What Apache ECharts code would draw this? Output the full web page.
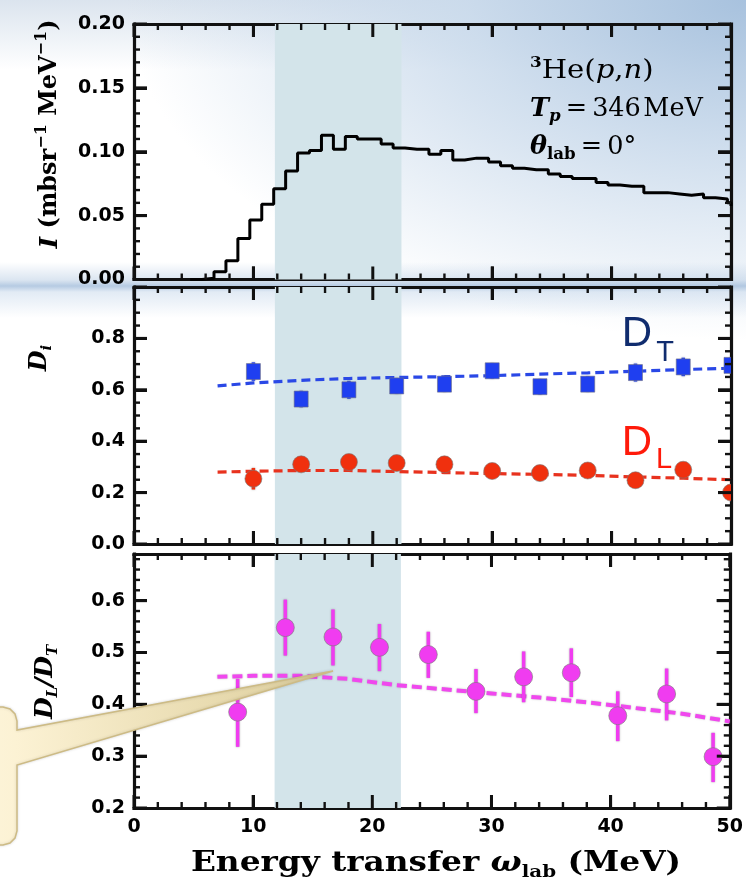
<!DOCTYPE html>
<html><head><meta charset="utf-8">
<script src="https://cdn.jsdelivr.net/npm/echarts@6/dist/echarts.min.js"></script>
<style>
html,body{margin:0;padding:0;}
body{width:746px;height:890px;overflow:hidden;background:
 linear-gradient(180deg, rgba(255,255,255,0) 262px, rgba(175,198,224,0.45) 280px, rgba(150,180,214,0.7) 286px, rgba(190,210,232,0.45) 292px, rgba(255,255,255,0) 318px),
 radial-gradient(ellipse 620px 340px at 100% 0%, rgba(168,194,222,1) 0%, rgba(200,217,235,0.85) 45%, rgba(255,255,255,0) 100%),
 linear-gradient(180deg, #dbe4ee 0px, rgba(255,255,255,0) 70px),
 #ffffff;}
#chart{width:746px;height:890px;}
</style></head><body><div id="chart"></div>
<script>
// ---------- data ----------
const xTickLabels = [0, 10, 20, 30, 40, 50];
const bandRange = [11.8, 22.4];

// axis tick values (major) and minor step per panel
const xMajor = [0, 10, 20, 30, 40, 50];
const xMinorStep = 2;
const topYMajor = [0, 0.05, 0.10, 0.15, 0.20];
const topYMinorStep = 0.01;
const midYMajor = [0, 0.2, 0.4, 0.6, 0.8, 1.0];
const midYMinorStep = 0.05;
const botYMajor = [0.2, 0.3, 0.4, 0.5, 0.6];
const botYMinorStep = 0.02;

// histogram (top panel): bin left edges and heights
const histEdges = [4.7, 5.7, 6.7, 7.7, 8.7, 9.7, 10.7, 11.7, 12.7, 13.7, 14.7, 15.7, 16.7, 17.7, 18.7, 19.7,
  20.7, 21.7, 22.7, 23.7, 24.7, 25.7, 26.7, 27.7, 28.7, 29.7, 30.7, 31.7, 32.7, 33.7, 34.7, 35.7,
  36.7, 37.7, 38.7, 39.7, 40.7, 41.7, 42.7, 43.7, 44.7, 45.7, 46.7, 47.7, 48.7, 49.7, 50.0];
const histValues = [0.000, 0.001, 0.006, 0.0146, 0.032, 0.0465, 0.059, 0.071, 0.085, 0.099, 0.101, 0.113, 0.102, 0.112, 0.110, 0.110,
  0.106, 0.103, 0.102, 0.102, 0.098, 0.101, 0.0936, 0.095, 0.095, 0.092, 0.089, 0.087, 0.086, 0.086, 0.0826, 0.0807,
  0.079, 0.079, 0.076, 0.074, 0.073, 0.073, 0.068, 0.068, 0.067, 0.066, 0.067, 0.064, 0.063, 0.060, 0.0575];

// middle panel
const wPts = [10, 14, 18, 22, 26, 30, 34, 38, 42, 46, 50];
const dtVals = [0.671, 0.564, 0.600, 0.615, 0.622, 0.674, 0.612, 0.622, 0.667, 0.689, 0.695];
const dtErr  = [0.036, 0.032, 0.035, 0.030, 0.030, 0.030, 0.030, 0.030, 0.035, 0.036, 0.030];
const dlVals = [0.254, 0.310, 0.319, 0.315, 0.310, 0.284, 0.276, 0.286, 0.248, 0.289, 0.200];
const dlErr  = [0.042, 0.022, 0.022, 0.022, 0.022, 0.022, 0.022, 0.022, 0.022, 0.022, 0.022];
const modelW  = [7, 10, 14, 18, 22, 26, 30, 34, 38, 42, 46, 50];
const dtModel = [0.615, 0.627, 0.637, 0.644, 0.648, 0.651, 0.655, 0.661, 0.666, 0.672, 0.679, 0.684];
const dlModel = [0.280, 0.283, 0.286, 0.286, 0.282, 0.278, 0.274, 0.271, 0.267, 0.261, 0.256, 0.250];

// bottom panel
const ratioW    = [8.7, 12.7, 16.7, 20.6, 24.7, 28.7, 32.7, 36.7, 40.6, 44.7, 48.6];
const ratioVals = [0.385, 0.548, 0.530, 0.510, 0.496, 0.425, 0.453, 0.461, 0.378, 0.420, 0.299];
const ratioLo   = [0.318, 0.494, 0.475, 0.464, 0.451, 0.383, 0.404, 0.414, 0.329, 0.369, 0.250];
const ratioHi   = [0.449, 0.602, 0.583, 0.555, 0.540, 0.468, 0.502, 0.508, 0.425, 0.469, 0.345];
const ratioModelW = [7, 10, 14, 16, 18, 22, 26, 30, 34, 38, 42, 46, 50];
const ratioModel  = [0.453, 0.455, 0.455, 0.452, 0.449, 0.437, 0.429, 0.421, 0.413, 0.404, 0.393, 0.382, 0.367];

// ---------- build ----------
const chart = echarts.init(document.getElementById('chart'), null, {renderer: 'canvas'});
const LEFT = 134, WIDTH = 597;
const grids = [
  {left: LEFT, top: 24, width: WIDTH, height: 255.5, show: false},
  {left: LEFT, top: 287, width: WIDTH, height: 257, show: false},
  {left: LEFT, top: 554, width: WIDTH, height: 254, show: false}
];
const yRanges = [[0, 0.2], [0, 1.0], [0.2, 0.69]];
const tickFont = {fontFamily: 'DejaVu Sans', fontWeight: 'bold', fontSize: 19, color: '#000'};
const axLine = {show: true, onZero: false, lineStyle: {color: '#111', width: 3.2, cap: 'square'}};

function xAx(gi, pos, showLabel) {
  return {
    type: 'value', gridIndex: gi, position: pos, min: 0, max: 50, interval: 10,
    axisLine: axLine, splitLine: {show: false},
    axisTick: {show: true, inside: true, length: 13, lineStyle: {color: '#111', width: 3}},
    minorTick: {show: false},
    axisLabel: Object.assign({show: showLabel, margin: 10,
      formatter: v => (xTickLabels.indexOf(v) >= 0 ? String(v) : '')}, tickFont)
  };
}
function yAx(gi, pos, interval, digits, showMax) {
  return {
    type: 'value', gridIndex: gi, position: pos, min: yRanges[gi][0], max: yRanges[gi][1], interval: interval,
    axisLine: axLine, splitLine: {show: false},
    axisTick: {show: true, inside: true, length: 13, lineStyle: {color: '#111', width: 3}},
    minorTick: {show: false},
    axisLabel: Object.assign({show: pos === 'left', margin: 9, showMaxLabel: showMax,
      formatter: v => v.toFixed(digits)}, tickFont)
  };
}

const xAxes = [xAx(0, 'bottom', false), xAx(0, 'top', false), xAx(1, 'bottom', false), xAx(1, 'top', false), xAx(2, 'bottom', true), xAx(2, 'top', false)];
const yAxes = [
  yAx(0, 'left', 0.05, 2, true), yAx(0, 'right', 0.05, 2, true),
  yAx(1, 'left', 0.2, 1, false), yAx(1, 'right', 0.2, 1, false),
  yAx(2, 'left', 0.1, 1, false), yAx(2, 'right', 0.1, 1, false)
];

const band = {silent: true, itemStyle: {color: '#d3e4ea'}, data: [[{xAxis: bandRange[0]}, {xAxis: bandRange[1]}]]};

function errRender(shape, color, size) {
  return function (params, api) {
    const x = api.value(0), y = api.value(1), lo = api.value(2), hi = api.value(3);
    const p = api.coord([x, y]), pl = api.coord([x, lo]), ph = api.coord([x, hi]);
    const children = [{
      type: 'line', shape: {x1: p[0], y1: pl[1], x2: p[0], y2: ph[1]},
      style: {stroke: color, lineWidth: 3.5, shadowColor: 'rgba(90,90,90,0.55)', shadowBlur: 2}
    }];
    if (shape === 'rect') {
      children.push({type: 'rect', shape: {x: p[0] - size / 2, y: p[1] - size / 2 - 1, width: size, height: size + 2},
        style: {fill: color, stroke: 'rgba(110,110,130,0.6)', lineWidth: 1}});
    } else {
      children.push({type: 'circle', shape: {cx: p[0], cy: p[1], r: size / 2},
        style: {fill: color, stroke: 'rgba(120,120,120,0.6)', lineWidth: 1}});
    }
    return {type: 'group', children: children};
  };
}

const histData = histEdges.map((e, i) => [e, histValues[i]]);
const dtData = wPts.map((w, i) => [w, dtVals[i], dtVals[i] - dtErr[i], dtVals[i] + dtErr[i]]);
const dlData = wPts.map((w, i) => [w, dlVals[i], dlVals[i] - dlErr[i], dlVals[i] + dlErr[i]]);
const ratioData = ratioW.map((w, i) => [w, ratioVals[i], ratioLo[i], ratioHi[i]]);

const series = [
  {type: 'line', xAxisIndex: 0, yAxisIndex: 0, step: 'end', showSymbol: false, symbol: 'none', clip: true, z: 3,
   lineStyle: {color: '#000', width: 3}, data: histData, markArea: band},
  {type: 'line', xAxisIndex: 2, yAxisIndex: 2, showSymbol: false, symbol: 'none', clip: true, z: 3,
   lineStyle: {color: '#2a48e6', width: 3.2, type: [9, 5]}, data: modelW.map((w, i) => [w, dtModel[i]]), markArea: band},
  {type: 'line', xAxisIndex: 2, yAxisIndex: 2, showSymbol: false, symbol: 'none', clip: true, z: 3,
   lineStyle: {color: '#e8321e', width: 3.2, type: [9, 5]}, data: modelW.map((w, i) => [w, dlModel[i]])},
  {type: 'custom', xAxisIndex: 2, yAxisIndex: 2, clip: true, z: 4, encode: {x: 0, y: 1},
   renderItem: errRender('rect', '#1f3ff0', 14), data: dtData},
  {type: 'custom', xAxisIndex: 2, yAxisIndex: 2, clip: true, z: 4, encode: {x: 0, y: 1},
   renderItem: errRender('circle', '#f0300e', 17), data: dlData},
  {type: 'line', xAxisIndex: 4, yAxisIndex: 4, showSymbol: false, symbol: 'none', clip: true, z: 3,
   lineStyle: {color: '#f048ee', width: 4, type: [10, 5], shadowColor: 'rgba(150,150,150,0.6)', shadowBlur: 2},
   data: ratioModelW.map((w, i) => [w, ratioModel[i]]), markArea: band},
  {type: 'custom', xAxisIndex: 4, yAxisIndex: 4, clip: true, z: 4, encode: {x: 0, y: 1},
   renderItem: errRender('circle', '#f03cf0', 18), data: ratioData}
];

const serif = 'DejaVu Serif';
const graphics = [
  // y title top
  {type: 'text', x: 50, y: 134, rotation: Math.PI / 2, z: 10, silent: true,
   style: {text: '{i|I}{b| (mbsr}{sup|−1}{b| MeV}{sup|−1}{b|)}', align: 'center', verticalAlign: 'middle', textAlign: 'center', textVerticalAlign: 'middle',
     fill: '#000', rich: {
       i: {fontFamily: serif, fontSize: 25, fontStyle: 'italic', fontWeight: 'bold', lineHeight: 32},
       b: {fontFamily: serif, fontSize: 24, fontWeight: 'bold', lineHeight: 32},
       sup: {fontFamily: serif, fontSize: 16, fontWeight: 'bold', lineHeight: 16, verticalAlign: 'top'}
     }}},
  // y title middle
  {type: 'text', x: 40, y: 358, rotation: Math.PI / 2, z: 10, silent: true,
   style: {text: '{i|D}{s|i}', align: 'center', verticalAlign: 'middle', textAlign: 'center', textVerticalAlign: 'middle',
     fill: '#000', rich: {
       i: {fontFamily: serif, fontSize: 24, fontStyle: 'italic', fontWeight: 'bold', lineHeight: 30},
       s: {fontFamily: serif, fontSize: 15, fontStyle: 'italic', fontWeight: 'bold', lineHeight: 15, verticalAlign: 'bottom'}
     }}},
  // y title bottom
  {type: 'text', x: 45, y: 682, rotation: Math.PI / 2, z: 10, silent: true,
   style: {text: '{i|D}{s|L}{i|/D}{s|T}', align: 'center', verticalAlign: 'middle', textAlign: 'center', textVerticalAlign: 'middle',
     fill: '#000', rich: {
       i: {fontFamily: serif, fontSize: 25, fontStyle: 'italic', fontWeight: 'bold', lineHeight: 31},
       s: {fontFamily: serif, fontSize: 15, fontStyle: 'italic', fontWeight: 'bold', lineHeight: 15, verticalAlign: 'bottom'}
     }}},
  // x title
  {type: 'text', x: 436, y: 864, scaleX: 1.17, z: 10, silent: true,
   style: {text: '{r|Energy transfer }{g|ω}{s|lab}{r| (MeV)}', align: 'center', verticalAlign: 'middle', textAlign: 'center', textVerticalAlign: 'middle',
     fill: '#000', rich: {
       r: {fontFamily: serif, fontSize: 28, fontWeight: 'bold', lineHeight: 34},
       g: {fontFamily: serif, fontSize: 28, fontStyle: 'italic', fontWeight: 'bold', lineHeight: 34},
       s: {fontFamily: serif, fontSize: 17, fontWeight: 'bold', lineHeight: 17, verticalAlign: 'bottom'}
     }}},
  // annotation
  {type: 'text', x: 530, y: 71, scaleX: 1.12, z: 10, silent: true,
   style: {text: '{sup|3}{r|He(}{i|p}{r|,}{i|n}{r|)}', align: 'left', verticalAlign: 'middle', textAlign: 'left', textVerticalAlign: 'middle',
     fill: '#000', rich: {
       r: {fontFamily: serif, fontSize: 26, lineHeight: 30},
       i: {fontFamily: serif, fontSize: 26, fontStyle: 'italic', lineHeight: 30},
       sup: {fontFamily: serif, fontSize: 15, fontWeight: 'bold', lineHeight: 15, verticalAlign: 'top'}
     }}},
  {type: 'text', x: 530, y: 109, scaleX: 0.98, z: 10, silent: true,
   style: {text: '{i|T}{s|p}{r|\u2009=\u2009346\u200aMeV}', align: 'left', verticalAlign: 'middle', textAlign: 'left', textVerticalAlign: 'middle',
     fill: '#000', rich: {
       r: {fontFamily: serif, fontSize: 26, lineHeight: 32},
       i: {fontFamily: serif, fontSize: 26, fontStyle: 'italic', fontWeight: 'bold', lineHeight: 32},
       s: {fontFamily: serif, fontSize: 17, fontStyle: 'italic', fontWeight: 'bold', lineHeight: 17, verticalAlign: 'bottom'}
     }}},
  {type: 'text', x: 530, y: 147, scaleX: 0.98, z: 10, silent: true,
   style: {text: '{i|θ}{s|lab}{r|\u2009=\u20090°}', align: 'left', verticalAlign: 'middle', textAlign: 'left', textVerticalAlign: 'middle',
     fill: '#000', rich: {
       r: {fontFamily: serif, fontSize: 26, lineHeight: 32},
       i: {fontFamily: serif, fontSize: 26, fontStyle: 'italic', fontWeight: 'bold', lineHeight: 32},
       s: {fontFamily: serif, fontSize: 17, fontWeight: 'bold', lineHeight: 17, verticalAlign: 'bottom'}
     }}},
  // D_T / D_L labels
  {type: 'text', x: 637, y: 334, z: 10, silent: true,
   style: {text: 'D', font: '42px "Liberation Sans"', fill: '#102c6e', align: 'center', verticalAlign: 'middle', textAlign: 'center', textVerticalAlign: 'middle'}},
  {type: 'text', x: 665, y: 353, z: 10, silent: true,
   style: {text: 'T', font: '29px "Liberation Sans"', fill: '#102c6e', align: 'center', verticalAlign: 'middle', textAlign: 'center', textVerticalAlign: 'middle'}},
  {type: 'text', x: 637, y: 443, z: 10, silent: true,
   style: {text: 'D', font: '42px "Liberation Sans"', fill: '#ff1a0a', align: 'center', verticalAlign: 'middle', textAlign: 'center', textVerticalAlign: 'middle'}},
  {type: 'text', x: 664, y: 460, z: 10, silent: true,
   style: {text: 'L', font: '29px "Liberation Sans"', fill: '#ff1a0a', align: 'center', verticalAlign: 'middle', textAlign: 'center', textVerticalAlign: 'middle'}},
  // callout
  {type: 'polygon', z: 20, silent: true,
   shape: {points: [[-40, 707], [3, 707], [10, 709], [15, 714], [17, 721], [17, 730], [333, 671], [17, 765],
     [17, 831], [15, 838], [10, 843], [3, 845], [-40, 845]]},
   style: {fill: {type: 'linear', x: 0, y: 0, x2: 1, y2: 0, colorStops: [
       {offset: 0, color: '#fdf6dc'}, {offset: 0.15, color: '#fcf2d4'}, {offset: 1, color: '#dccd9a'}]},
     stroke: '#cdbb85', lineWidth: 1.5, shadowColor: 'rgba(0,0,0,0.15)', shadowBlur: 3}}
];

chart.setOption({
  animation: false,
  backgroundColor: 'transparent',
  grid: grids,
  xAxis: xAxes,
  yAxis: yAxes,
  series: series,
  graphic: graphics
});

// inward ticks on all four sides of each panel, placed through the axes' scales
function minorValues(majors, step, lo, hi) {
  const out = [];
  const n = Math.floor((hi - lo) / step + 1e-6);
  for (let k = 0; k <= n; k++) {
    const v = +(lo + k * step).toFixed(6);
    if (!majors.some(m => Math.abs(m - v) < 1e-9)) out.push(v);
  }
  return out;
}
const tickEls = [];
function addTicks(ai, yMajor, yMinorStep, yLo, yHi) {
  const P = (x, y) => chart.convertToPixel({xAxisIndex: ai, yAxisIndex: ai}, [x, y]);
  const c0 = P(0, yLo), c1 = P(50, yHi);
  const L = c0[0], R = c1[0], B = c0[1], Tp = c1[1];
  const vt = (x, y, h, w) => tickEls.push({type: 'rect', z: 15, silent: true,
    shape: {x: x - w / 2, y: y, width: w, height: h}, style: {fill: '#111'}});
  const ht = (x, y, len, w) => tickEls.push({type: 'rect', z: 15, silent: true,
    shape: {x: x, y: y - w / 2, width: len, height: w}, style: {fill: '#111'}});
  xMajor.forEach(v => { const x = P(v, yLo)[0]; vt(x, B - 13, 13, 3); vt(x, Tp, 13, 3); });
  minorValues(xMajor, xMinorStep, 0, 50).forEach(v => { const x = P(v, yLo)[0]; vt(x, B - 6, 6, 2.4); vt(x, Tp, 6, 2.4); });
  yMajor.forEach(v => { if (v > yHi) return; const y = P(0, v)[1]; ht(L, y, 13, 3); ht(R - 13, y, 13, 3); });
  minorValues(yMajor, yMinorStep, yLo, yHi).forEach(v => { const y = P(0, v)[1]; ht(L, y, 6, 2.4); ht(R - 6, y, 6, 2.4); });
}
addTicks(0, topYMajor, topYMinorStep, yRanges[0][0], yRanges[0][1]);
addTicks(2, midYMajor, midYMinorStep, yRanges[1][0], yRanges[1][1]);
addTicks(4, botYMajor, botYMinorStep, yRanges[2][0], yRanges[2][1]);
chart.setOption({graphic: graphics.concat(tickEls)});
</script></body></html>
